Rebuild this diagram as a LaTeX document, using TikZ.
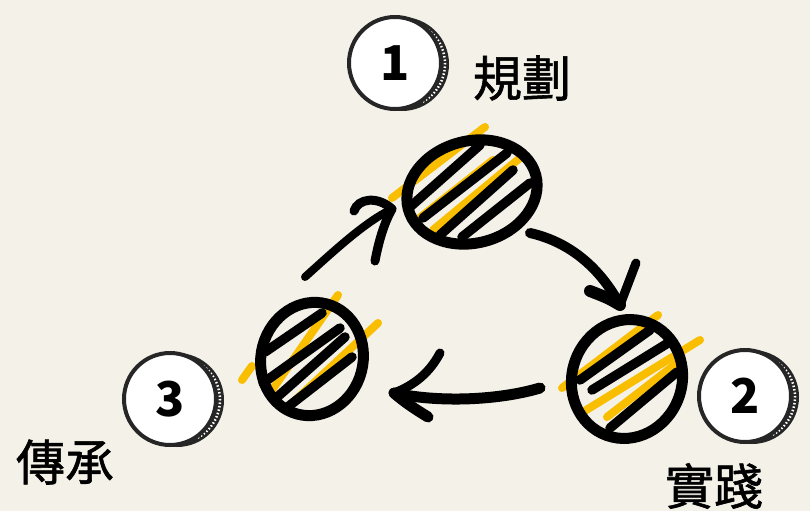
\documentclass[tikz,border=0pt]{standalone}
\usepackage{fontspec}
\newfontfamily\cjk{Noto Sans CJK TC}
\newfontfamily\cjkm{Noto Sans CJK TC}[FakeBold=1.2]
\usetikzlibrary{shapes.geometric,calc}
\definecolor{bg}{RGB}{244,241,233}
\definecolor{ylw}{RGB}{250,190,0}
\definecolor{ring}{RGB}{38,38,38}
\begin{document}
\begin{tikzpicture}[x=1pt,y=-1pt,
  hc/.style={ellipse, draw=black, line width=11pt, inner sep=0pt},
  ystroke/.style={draw=ylw, line width=8pt, line cap=round},
  bstroke/.style={draw=black, line width=9.5pt, line cap=round},
  shaft/.style={draw=black, line width=10pt, line cap=round},
  barb/.style={draw=black, line width=9pt, line cap=round},
  badge/.style={circle, draw=ring, line width=4pt, fill=white, minimum size=92pt, inner sep=0pt,
    font=\cjk\bfseries\fontsize{48}{48}\selectfont},
  coin/.style={fill=ring},
  coinedge/.style={draw=white, line width=2.5pt, dash pattern=on 1.5pt off 2pt},
  lbl/.style={font=\cjkm\fontsize{49}{49}\selectfont, inner sep=0pt}]
\fill[bg] (0,0) rectangle (810,511);
\useasboundingbox (0,0) rectangle (810,511);

% ---------- hatching: top circle
\foreach \a/\b in {{392,198}/{485,127},{417,220}/{493,160},{433,230}/{520,158}}
  \draw[ystroke] (\a) -- (\b);
\foreach \a/\b in {{410,207}/{480,145},{423,218}/{507,153},{440,235}/{513,170},{462,237}/{530,183}}
  \draw[bstroke] (\a) -- (\b);
% ---------- hatching: left circle
\foreach \a/\b in {{270,393}/{338,295},{287,408}/{378,323},{242,380}/{252,366}}
  \draw[ystroke] (\a) -- (\b);
\foreach \a/\b in {{265,352}/{322,313},{263,383}/{340,328},{275,399}/{345,337},{285,409}/{352,357}}
  \draw[bstroke] (\a) -- (\b);
% ---------- hatching: right circle
\foreach \a/\b in {{562,388}/{658,315},{583,412}/{700,340},{607,417}/{677,363}}
  \draw[ystroke] (\a) -- (\b);
\foreach \a/\b in {{580,380}/{650,330},{592,390}/{668,343},{610,428}/{677,372}}
  \draw[bstroke] (\a) -- (\b);

% ---------- circle outlines
\node[hc, minimum width=132pt, minimum height=102pt, rotate=15] (top) at (472,192) {};
\node[hc, minimum width=102pt, minimum height=114pt, rotate=-15] (left) at (312,359) {};
\node[hc, minimum width=110pt, minimum height=120pt, rotate=-20] (right) at (627,379) {};

% ---------- arrows
\coordinate (a1s) at (305,277);
\coordinate (a1e) at (392,209);
\draw[shaft, line width=8pt] (a1s) .. controls (335,250) and (365,222) .. (a1e);
\draw[barb] (a1e) .. controls (378,196) and (358,198) .. (354,211);
\draw[barb] (a1e) .. controls (383,225) and (378,245) .. (375,261);

\coordinate (a2s) at (530,233);
\coordinate (a2e) at (620,305);
\draw[shaft] (a2s) .. controls (570,242) and (600,268) .. (a2e);
\draw[barb] (a2e) -- (636,263);
\draw[barb, line width=12pt] (a2e) .. controls (608,298) .. (590,291);

\coordinate (a3s) at (540,388);
\coordinate (a3e) at (394,393);
\draw[shaft, line width=11pt] (a3s) .. controls (500,400) and (440,403) .. (a3e);
\draw[barb] (a3e) .. controls (415,385) and (430,372) .. (440,353);
\draw[barb, line width=11pt] (a3e) .. controls (408,405) and (420,412) .. (428,417);

% ---------- badges
\foreach \p in {{395,63},{745,396},{170,399}} {
  \fill[coin] ($(\p)+(7,1)$) circle[radius=47];
  \draw[coinedge] ($(\p)+(7,1)$) ++(-62:43) arc[start angle=-62, end angle=62, radius=43];
}
\node[badge] (b1) at (395,63) {1};
\node[badge] (b2) at (745,396) {2};
\node[badge] (b3) at (170,399) {3};

% ---------- labels
\node[lbl] (t1) at (522,78) {規劃};
\node[lbl] (t2) at (714,486) {實踐};
\node[lbl] (t3) at (65,462) {傳承};
\end{tikzpicture}
\end{document}
